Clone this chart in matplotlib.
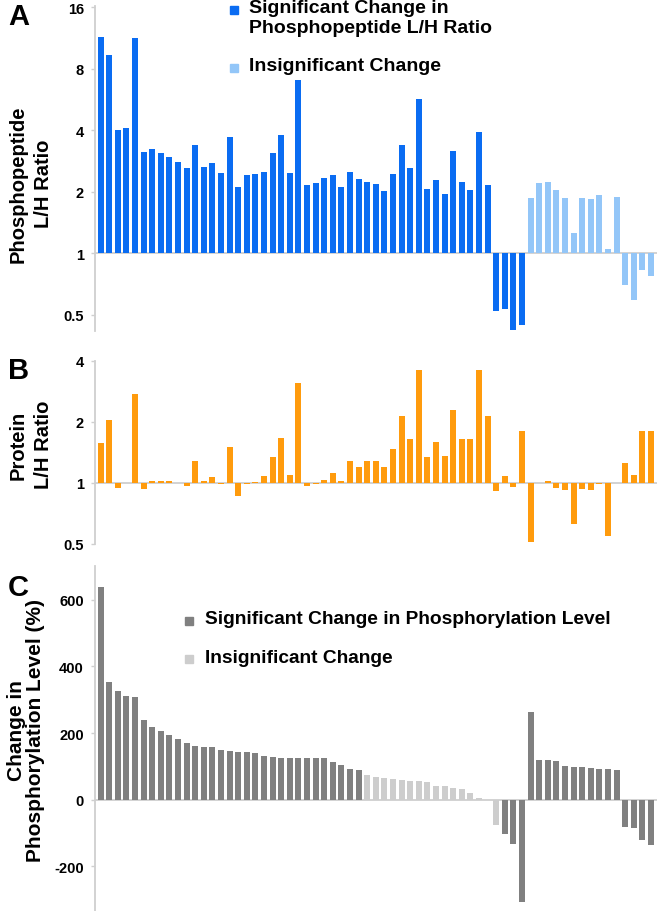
import matplotlib
matplotlib.use("Agg")
import matplotlib.pyplot as plt
from matplotlib.patches import Rectangle

plt.rcParams['font.family'] = ['Liberation Sans', 'DejaVu Sans']
plt.rcParams['font.weight'] = 'bold'

# ---------------- data ----------------
# Panel A: phosphopeptide L/H ratio (65 peptides)
phospho_ratio = [11.5, 9.3, 4.0, 4.1, 11.3, 3.12, 3.25, 3.11, 2.97, 2.79,
                 2.60, 3.38, 2.65, 2.77, 2.46, 3.70, 2.10, 2.41, 2.43, 2.51,
                 3.08, 3.78, 2.46, 7.05, 2.16, 2.21, 2.33, 2.42, 2.11, 2.51,
                 2.32, 2.24, 2.18, 2.02, 2.44, 3.39, 2.62, 5.67, 2.07, 2.29,
                 1.95, 3.16, 2.23, 2.05, 3.91, 2.16, 0.52, 0.536, 0.42, 0.446,
                 1.86, 2.21, 2.24, 2.03, 1.86, 1.26, 1.86, 1.84, 1.92, 1.05,
                 1.89, 0.70, 0.59, 0.83, 0.77]
phospho_significant = [True] * 50 + [False] * 15

# Panel B: protein L/H ratio
protein_ratio = [1.57, 2.04, 0.945, 1.0, 2.76, 0.93, 1.027, 1.02, 1.02, 0.995,
                 0.963, 1.29, 1.02, 1.074, 0.99, 1.5, 0.86, 0.99, 1.015, 1.08,
                 1.35, 1.67, 1.09, 3.12, 0.967, 0.99, 1.04, 1.12, 1.02, 1.29,
                 1.20, 1.28, 1.28, 1.20, 1.47, 2.13, 1.65, 3.63, 1.34, 1.59,
                 1.36, 2.29, 1.65, 1.65, 3.63, 2.13, 0.91, 1.08, 0.96, 1.80,
                 0.51, 1.0, 1.02, 0.94, 0.924, 0.63, 0.93, 0.925, 0.99, 0.55,
                 1.0, 1.26, 1.09, 1.80, 1.80]

# Panel C: change in phosphorylation level (%)
phos_change = [637, 354, 325, 310, 309, 239, 218, 206, 193, 182,
               170, 161, 159, 158, 148, 147, 144, 144, 139, 131,
               128, 126, 126, 125, 125, 125, 124, 114, 104, 92,
               90, 74, 68, 66, 63, 58, 56, 55, 53, 42,
               41, 35, 33, 21, 5, 0, -76, -104, -132, -308,
               262, 120, 118, 116, 100, 97, 97, 96, 93, 92,
               88, -83, -86, -120, -136]
change_significant = ([True] * 31 + [False] * 16 + [True] * 18)

a_ticks = [0.5, 1, 2, 4, 8, 16]
a_ticklabels = ['0.5', '1', '2', '4', '8', '16']
b_ticks = [0.5, 1, 2, 4]
b_ticklabels = ['0.5', '1', '2', '4']
c_ticks = [-200, 0, 200, 400, 600]
c_ticklabels = ['-200', '0', '200', '400', '600']

legend_a = ['Significant Change in\nPhosphopeptide L/H Ratio', 'Insignificant Change']
legend_c = ['Significant Change in Phosphorylation Level', 'Insignificant Change']

# ---------------- style ----------------
BLUE = '#0a6cf2'
LBLUE = '#93c6f8'
ORANGE = '#ff9b0d'
DGRAY = '#808080'
LGRAY = '#cdcdcd'
AXC = '#cfcfcf'

W, H = 658, 912
fig = plt.figure(figsize=(W / 100, H / 100), dpi=100)


def px_axes(x0, y0, x1, y1):
    return fig.add_axes([x0 / W, 1 - y1 / H, (x1 - x0) / W, (y1 - y0) / H])


def style(ax, ticks, labels):
    for s in ['top', 'right', 'bottom']:
        ax.spines[s].set_visible(False)
    ax.spines['left'].set_color(AXC)
    ax.spines['left'].set_linewidth(1.3)
    ax.set_xticks([])
    ax.set_yticks(ticks)
    ax.set_yticklabels(labels)
    ax.minorticks_off()
    ax.tick_params(axis='y', direction='out', length=3, width=1, color=AXC,
                   pad=5, labelsize=10.5)
    for t in ax.get_yticklabels():
        t.set_fontweight('bold')


n = len(phospho_ratio)
xs = list(range(n))
XL = (-0.66, 64.69)
BW = 0.7

# Panel A
axA = px_axes(95, 6.7, 657, 331.7)
axA.set_yscale('log', base=2)
axA.set_ylim(0.4174, 16.29)
axA.set_xlim(*XL)
colsA = [BLUE if s else LBLUE for s in phospho_significant]
axA.bar(xs, [v - 1 for v in phospho_ratio], bottom=1, width=BW, color=colsA, zorder=3)
axA.axhline(1, color=AXC, lw=1.3, zorder=2)
style(axA, a_ticks, a_ticklabels)

# Panel B
axB = px_axes(95, 362, 657, 545)
axB.set_yscale('log', base=2)
axB.set_ylim(0.5, 4)
axB.set_xlim(*XL)
axB.bar(xs, [v - 1 for v in protein_ratio], bottom=1, width=BW, color=ORANGE, zorder=3)
axB.axhline(1, color=AXC, lw=1.3, zorder=2)
style(axB, b_ticks, b_ticklabels)

# Panel C
axC = px_axes(95, 566.7, 657, 912)
axC.set_ylim(-334, 702)
axC.set_xlim(*XL)
colsC = [DGRAY if s else LGRAY for s in change_significant]
axC.bar(xs, phos_change, width=BW, color=colsC, zorder=3)
axC.axhline(0, color=AXC, lw=1.3, zorder=2)
style(axC, c_ticks, c_ticklabels)

# Panel letters
fig.text(8 / W, 1 - 17 / H, 'A', fontsize=21, fontweight='bold', va='center', ha='left')
fig.text(8 / W, 1 - 371 / H, 'B', fontsize=21, fontweight='bold', va='center', ha='left')
fig.text(8 / W, 1 - 588 / H, 'C', fontsize=21, fontweight='bold', va='center', ha='left')

# Y labels
fig.text(31 / W, 1 - 184 / H, 'Phosphopeptide\nL/H Ratio', rotation=90, fontsize=14.5,
         fontweight='bold', ha='center', va='center', multialignment='center', linespacing=1.4)
fig.text(31 / W, 1 - 445 / H, 'Protein\nL/H Ratio', rotation=90, fontsize=14.5,
         fontweight='bold', ha='center', va='center', multialignment='center', linespacing=1.4)
fig.text(26 / W, 1 - 731 / H, 'Change in\nPhosphorylation Level (%)', rotation=90, fontsize=15,
         fontweight='bold', ha='center', va='center', multialignment='center', linespacing=0.95)

# Legends (manual)
def legend_entry(xsq, ysq, color, text, fs, xt, yt):
    fig.patches.append(Rectangle(((xsq - 4) / W, 1 - (ysq + 4) / H), 8 / W, 8 / H,
                                 transform=fig.transFigure, color=color, figure=fig))
    fig.text(xt / W, 1 - yt / H, text, fontsize=fs, fontweight='bold', ha='left', va='top',
             linespacing=1.25)

legend_entry(234, 10.5, BLUE, legend_a[0], 14, 249, 0)
legend_entry(234, 68.5, LBLUE, legend_a[1], 14, 249, 58)
legend_entry(189, 621.5, DGRAY, legend_c[0], 13.8, 205, 611)
legend_entry(189, 660, LGRAY, legend_c[1], 13.8, 205, 650)

fig.savefig('out.png', dpi=100)
